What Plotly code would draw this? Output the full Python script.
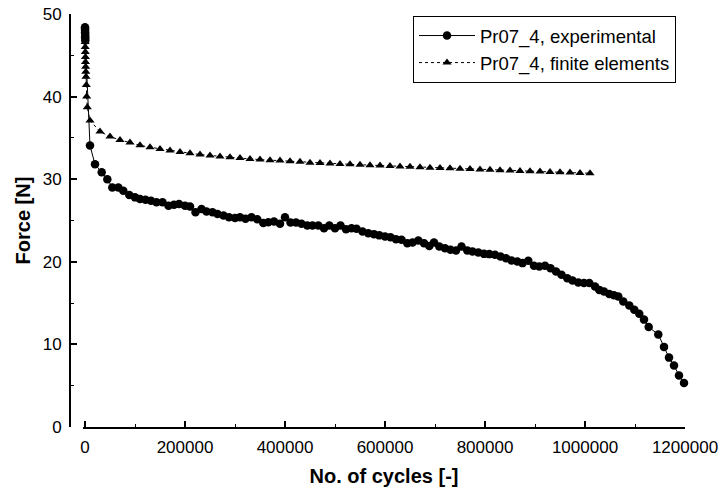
import plotly.graph_objects as go

# ---- data ----
exp_cycles = [0, 100, 200, 300, 400, 500, 600, 10000, 20000, 33400, 44600, 54600, 66600, 76600,
              88600, 100000, 110000, 121000, 132000, 143000, 155000, 167000, 178000, 188000,
              200000, 210000, 221000, 233000, 243000, 255000, 265000, 277000, 288000, 300000,
              310000, 321000, 333000, 344600, 356600, 366600, 378000, 390000, 400000, 411000,
              422000, 433000, 444600, 455000, 466600, 478000, 488600, 500000, 511000, 522000,
              533000, 543000, 555000, 566600, 578000, 588600, 600000, 611000, 622000, 633000,
              644600, 655000, 666600, 678000, 688600, 698000, 708600, 720000, 731000, 742000,
              753000, 764600, 775000, 786600, 798000, 808600, 820000, 831000, 842000, 853000,
              864600, 875000, 886600, 898000, 908600, 920000, 931000, 942000, 953000, 964600,
              975000, 986600, 998000, 1008600, 1020000, 1028600, 1038000, 1048600, 1058000,
              1066600, 1076600, 1088600, 1098600, 1108600, 1118000, 1127400, 1146600, 1158000,
              1168000, 1178000, 1188000, 1198000]
exp_force = [48.4, 48.2, 48.0, 47.7, 47.4, 47.1, 46.8, 34.07, 31.8, 30.85, 30.0, 29.0, 29.0, 28.6,
             28.1, 27.8, 27.6, 27.5, 27.4, 27.2, 27.2, 26.8, 26.9, 27.0,
             26.8, 26.7, 26.0, 26.4, 26.1, 26.0, 25.8, 25.6, 25.4, 25.3,
             25.4, 25.2, 25.4, 25.16, 24.7, 24.8, 24.87, 24.6, 25.4, 24.75,
             24.75, 24.6, 24.4, 24.4, 24.4, 24.07, 24.4, 24.07, 24.4, 23.95,
             24.07, 24.0, 23.67, 23.47, 23.35, 23.2, 23.06, 22.98, 22.74, 22.66,
             22.26, 22.33, 22.57, 22.26, 21.9, 22.33, 21.85, 21.65, 21.45, 21.37,
             21.85, 21.37, 21.24, 21.12, 20.96, 20.93, 20.84, 20.64, 20.44, 20.15,
             20.03, 19.84, 20.12, 19.51, 19.43, 19.51, 19.23, 18.82, 18.42, 18.02,
             17.73, 17.49, 17.42, 17.42, 17.0, 16.6, 16.4, 16.1, 15.95,
             15.8, 15.2, 14.7, 14.2, 13.7, 13.0, 12.1, 11.2, 9.7,
             8.4, 7.45, 6.24, 5.32]

fe_cycles = [0, 150, 300, 450, 600, 800, 1000, 1300, 1600, 2000, 2600, 3300, 4600,
             10000, 30000, 50000, 70000, 90000, 110000, 130000, 150000, 170000, 190000,
             210000, 230000, 250000, 270000, 290000, 310000, 330000, 350000, 370000, 390000,
             410000, 430000, 450000, 470000, 490000, 510000, 530000, 550000, 570000, 590000,
             610000, 630000, 650000, 670000, 690000, 710000, 730000, 750000, 770000, 790000,
             810000, 830000, 850000, 870000, 890000, 910000, 930000, 950000, 970000, 990000,
             1010000]
fe_force = [48.0, 47.4, 46.6, 46.0, 45.4, 44.8, 44.2, 43.6, 43.0, 42.4, 41.4, 40.0, 38.7,
            37.1, 35.76, 35.16, 34.76, 34.43, 34.1, 33.87, 33.67, 33.46, 33.3,
            33.15, 32.98, 32.86, 32.74, 32.66, 32.58, 32.46, 32.37, 32.3, 32.26,
            32.18, 32.1, 32.0, 31.95, 31.9, 31.85, 31.8, 31.75, 31.7, 31.65,
            31.6, 31.55, 31.5, 31.45, 31.4, 31.36, 31.32, 31.27, 31.22, 31.18,
            31.13, 31.09, 31.05, 31.0, 30.96, 30.92, 30.88, 30.84, 30.8, 30.76,
            30.72]

x_ticks = [0, 200000, 400000, 600000, 800000, 1000000, 1200000]
y_ticks = [0, 10, 20, 30, 40, 50]

FONT = "Liberation Sans, Arial, Helvetica, sans-serif"

# body margin removed via post_script, so page pixels == figure pixels
W, H = 723, 492
L = 60
R = W - 685
T = 14
B = H - 427.3
pw = W - L - R
ph = H - T - B

fig = go.Figure()
fig.add_trace(go.Scatter(
    x=exp_cycles, y=exp_force, name="Pr07_4, experimental",
    mode="lines+markers", cliponaxis=False,
    line=dict(color="black", width=1),
    marker=dict(symbol="circle", size=8.5, color="black"),
))
fig.add_trace(go.Scatter(
    x=fe_cycles, y=fe_force, name="Pr07_4, finite elements",
    mode="lines+markers", cliponaxis=False,
    line=dict(color="black", width=1, dash="dot"),
    marker=dict(symbol="triangle-up", size=8, color="black"),
))

fig.update_layout(
    width=W, height=H,
    margin=dict(l=L, r=R, t=T, b=B, autoexpand=False),
    paper_bgcolor="white", plot_bgcolor="white",
    font=dict(family=FONT, color="black", size=17),
    showlegend=True,
    legend=dict(
        x=(676 - L) / pw, xanchor="right",
        y=1 - (16 - T) / ph, yanchor="top",
        bgcolor="white", bordercolor="black", borderwidth=1,
        font=dict(family=FONT, size=18.5, color="black"),
        tracegroupgap=0, itemwidth=56,
    ),
    xaxis=dict(
        domain=[(83 - L) / pw, 1],
        range=[-4000, 1200000],
        automargin=False,
        tickvals=x_ticks, ticktext=[str(v) for v in x_ticks],
        ticks="inside", ticklen=6, tickwidth=1.5, tickcolor="black",
        minor=dict(ticks="inside", ticklen=3, tickwidth=1, tickcolor="black", dtick=100000, tick0=0),
        showline=True, linecolor="black", linewidth=2,
        showgrid=False, zeroline=False,
        ticklabelstandoff=4, ticklabeloverflow="allow",
        tickfont=dict(family=FONT, size=17),
        title=dict(text="<b>No. of cycles [-]</b>", font=dict(family=FONT, size=20), standoff=13),
    ),
    yaxis=dict(
        anchor="free", position=(70 - L) / pw,
        range=[0, 50],
        automargin=False,
        tickvals=y_ticks,
        ticks="inside", ticklen=6, tickwidth=1.5, tickcolor="black",
        minor=dict(ticks="inside", ticklen=3, tickwidth=1, tickcolor="black", dtick=5, tick0=0),
        showline=True, linecolor="black", linewidth=2,
        showgrid=False, zeroline=False,
        ticklabelstandoff=4, ticklabeloverflow="allow",
        tickfont=dict(family=FONT, size=17),
        title=dict(text="<b>Force [N]</b>", font=dict(family=FONT, size=20), standoff=6),
    ),
)

fig.write_html("out.html", config={"displayModeBar": False},
               post_script="document.body.style.margin='0';")
